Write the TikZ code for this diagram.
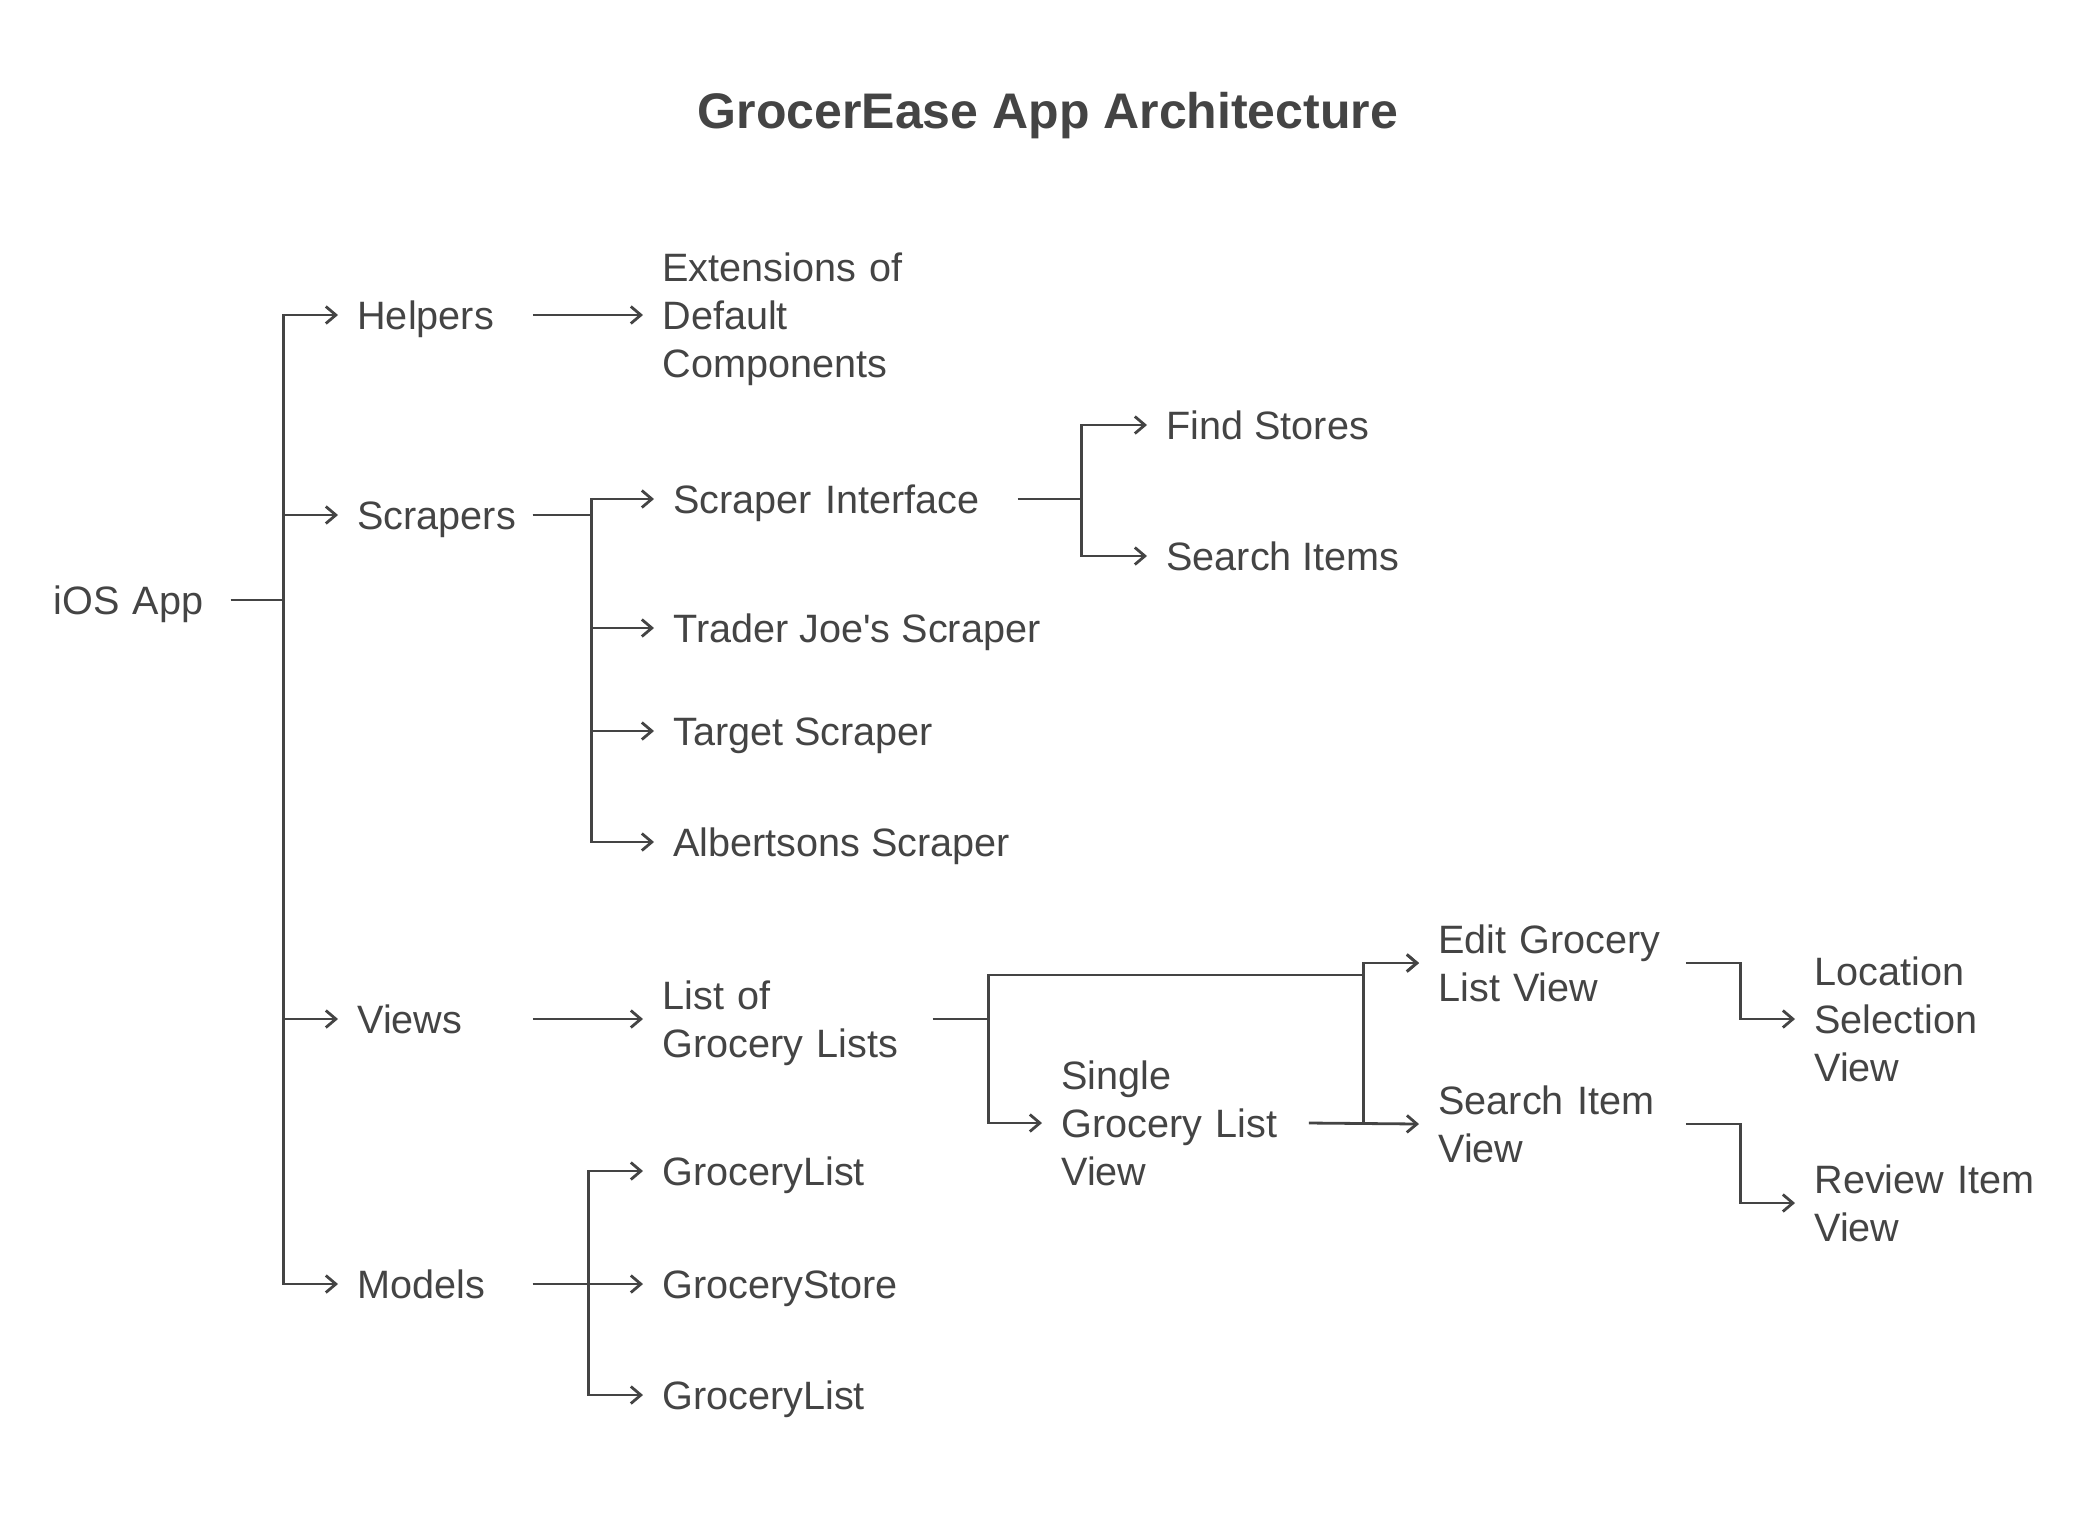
\documentclass[tikz,border=0pt]{standalone}
\usepackage{fontspec}
\setmainfont{Liberation Sans}
\usetikzlibrary{arrows.meta}
\definecolor{ink}{HTML}{444444}

\begin{document}
\begin{tikzpicture}[
  x=0.5pt,y=-0.5pt,
  item/.style={anchor=west, inner xsep=9.5pt, inner ysep=0pt, align=left,
    text=ink, font=\fontsize{19.8}{24}\selectfont, text height=14.2pt},
  leaf/.style={item, text depth=0pt},
  pair/.style={item, text depth=24pt},
  triple/.style={item, text depth=48pt},
  link/.style={draw=ink, line width=1.4pt},
  arrow/.style={link, -{Straight Barb[length=5pt,width=8.5pt]}}
]
\useasboundingbox (0,0) rectangle (2096,1522);
\node[text=ink, font=\fontsize{25}{30}\selectfont\bfseries] (title) at (1048,116)
  {GrocerEase App Architecture};

% root and first level
\node[leaf, text width=79pt] (ios) at (34,600) {iOS App};
\node[leaf, text width=78pt] (helpers) at (338,315) {Helpers};
\node[leaf, text width=78pt] (scrapers) at (338,515) {Scrapers};
\node[leaf, text width=78pt] (views) at (338,1019) {Views};
\node[leaf, text width=78pt] (models) at (338,1284) {Models};
\draw[arrow] (ios.east) -- ++(53,0) |- (helpers.west);
\draw[arrow] (ios.east) -- ++(53,0) |- (scrapers.west);
\draw[arrow] (ios.east) -- ++(53,0) |- (views.west);
\draw[arrow] (ios.east) -- ++(53,0) |- (models.west);

% helpers
\node[triple, text width=125pt] (ext) at (643,315) {Extensions of\\Default\\Components};
\draw[arrow] (helpers.east) -- (ext.west);

% scrapers
\node[leaf, text width=162.5pt] (sint) at (654,499) {Scraper Interface};
\node[leaf] (tj) at (654,628) {Trader Joe\textquotesingle s Scraper};
\node[leaf] (target) at (654,731) {Target Scraper};
\node[leaf] (alb) at (654,842) {Albertsons Scraper};
\draw[arrow] (scrapers.east) -- ++(59,0) |- (sint.west);
\draw[arrow] (scrapers.east) -- ++(59,0) |- (tj.west);
\draw[arrow] (scrapers.east) -- ++(59,0) |- (target.west);
\draw[arrow] (scrapers.east) -- ++(59,0) |- (alb.west);
\node[leaf] (find) at (1147,425) {Find Stores};
\node[leaf] (sitems) at (1147,556) {Search Items};
\draw[arrow] (sint.east) -- ++(64,0) |- (find.west);
\draw[arrow] (sint.east) -- ++(64,0) |- (sitems.west);

% views
\node[pair, text width=125.5pt] (lgl) at (643,1019) {List of\\Grocery Lists};
\draw[arrow] (views.east) -- (lgl.west);
\node[triple, text width=114pt] (single) at (1042,1123) {Single\\Grocery List\\View};
\node[pair, text width=114pt] (edit) at (1419,963) {Edit Grocery\\List View};
\node[pair, text width=114pt] (search) at (1419,1124) {Search Item\\View};
\node[triple, text width=110pt] (loc) at (1795,1019) {Location\\Selection\\View};
\node[pair, text width=120pt] (review) at (1795,1203) {Review Item\\View};
\coordinate (editbend) at (1363,975);
\draw[arrow] (lgl.east) -- ++(56,0) |- (single.west);
\draw[arrow] (lgl.east) -- ++(56,0) |- (editbend) |- (edit.west);
\draw[arrow] (single.east) -- ++(55,0) |- (edit.west);
\draw[arrow] (single.east) -- (search.west);
\draw[arrow] (edit.east) -- ++(55,0) |- (loc.west);
\draw[arrow] (search.east) -- ++(55,0) |- (review.west);

% models
\node[leaf] (gl1) at (643,1171) {GroceryList};
\node[leaf] (gs) at (643,1284) {GroceryStore};
\node[leaf] (gl2) at (643,1395) {GroceryList};
\draw[arrow] (models.east) -- ++(56,0) |- (gl1.west);
\draw[arrow] (models.east) -- ++(56,0) |- (gs.west);
\draw[arrow] (models.east) -- ++(56,0) |- (gl2.west);
\end{tikzpicture}
\end{document}
